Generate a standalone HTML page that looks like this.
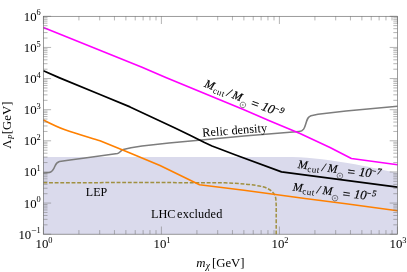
<!DOCTYPE html>
<html><head><meta charset="utf-8">
<style>
html,body{margin:0;padding:0;background:#fff;}
body{width:407px;height:272px;overflow:hidden;}
svg{display:block;will-change:transform;}
text{font-family:"Liberation Serif",serif;fill:#000;}
</style></head><body>
<svg width="407" height="272" viewBox="0 0 407 272">
<rect width="407" height="272" fill="#fff"/>
<path d="M43.4,157 L292,157 C313,157.7 330,160.1 355,164.3 C372,167.5 385,170.5 397.5,173 L397.4,234.2 L43.4,234.2 Z" fill="#dadaec"/>
<g fill="none" stroke-linejoin="round">
<path d="M43.4,172.9 L49.5,172.4 C52.7,171.9 53.7,169.3 54.9,166.2 C56.1,163.2 57.5,162.2 59.5,161.6 L70,160.1 L85,157.9 L117.5,153.5 C120,152.9 120.8,150.3 123.3,149.5 L131,147.7 L142,146 L169,143 L196,140.4 L244,135.9 L299,131.6 C303.5,131.2 304.6,128 305.9,123.5 C307.2,118.6 308,116.8 311,115.7 L318,114.3 L346,111 L397.5,106.2" stroke="#7d7d7d" stroke-width="1.55"/>
<path d="M43.4,182.8 L142,182.5 L225,182.8 C240,183.4 254,184.6 263,186.8 C270,188.8 274.6,192.5 275.8,198.5 L276.2,205 L276.2,234.2" stroke="#a09040" stroke-width="1.5" stroke-dasharray="3.9,1.73"/>
<path d="M43.4,119.9 C50,123.3 58,127.2 65,129.7 C75,133.3 88,137 100,140.7 L130,153 L160,165.6 L199.5,184.7 L244,190.3 L305,198.5 L346,203.7 L397.5,210.7" stroke="#ff8000" stroke-width="1.65"/>
<path d="M43.4,70.8 L59,77.6 L100,94.5 L130,106.9 L175,127.9 L190,135.3 L204.5,142.6 L212,146 L219.3,148.8 L235,154.7 L281.5,171.9 L397.5,187.2" stroke="#000" stroke-width="1.7"/>
<path d="M43.4,27.6 L142,67.2 L165.8,77.5 L244,109.7 L270,120.9 L300,133.6 L330,147.5 L351.4,158.5 L397.5,164.7" stroke="#ff00ff" stroke-width="1.65"/>
</g>
<g stroke="#777" stroke-width="0.55" fill="none"><path d="M43.40,234.2v-7.7 M43.40,16.3v7.7 M78.92,234.2v-4.1 M78.92,16.3v4.1 M99.70,234.2v-4.1 M99.70,16.3v4.1 M114.44,234.2v-4.1 M114.44,16.3v4.1 M125.88,234.2v-4.1 M125.88,16.3v4.1 M135.22,234.2v-4.1 M135.22,16.3v4.1 M143.12,234.2v-4.1 M143.12,16.3v4.1 M149.96,234.2v-4.1 M149.96,16.3v4.1 M156.00,234.2v-4.1 M156.00,16.3v4.1 M161.40,234.2v-7.7 M161.40,16.3v7.7 M196.92,234.2v-4.1 M196.92,16.3v4.1 M217.70,234.2v-4.1 M217.70,16.3v4.1 M232.44,234.2v-4.1 M232.44,16.3v4.1 M243.88,234.2v-4.1 M243.88,16.3v4.1 M253.22,234.2v-4.1 M253.22,16.3v4.1 M261.12,234.2v-4.1 M261.12,16.3v4.1 M267.96,234.2v-4.1 M267.96,16.3v4.1 M274.00,234.2v-4.1 M274.00,16.3v4.1 M279.40,234.2v-7.7 M279.40,16.3v7.7 M314.92,234.2v-4.1 M314.92,16.3v4.1 M335.70,234.2v-4.1 M335.70,16.3v4.1 M350.44,234.2v-4.1 M350.44,16.3v4.1 M361.88,234.2v-4.1 M361.88,16.3v4.1 M371.22,234.2v-4.1 M371.22,16.3v4.1 M379.12,234.2v-4.1 M379.12,16.3v4.1 M385.96,234.2v-4.1 M385.96,16.3v4.1 M392.00,234.2v-4.1 M392.00,16.3v4.1 M397.40,234.2v-7.7 M397.40,16.3v7.7 M43.4,234.20h7.7 M397.4,234.20h-7.7 M43.4,224.83h4.1 M397.4,224.83h-4.1 M43.4,219.35h4.1 M397.4,219.35h-4.1 M43.4,215.46h4.1 M397.4,215.46h-4.1 M43.4,212.44h4.1 M397.4,212.44h-4.1 M43.4,209.98h4.1 M397.4,209.98h-4.1 M43.4,207.89h4.1 M397.4,207.89h-4.1 M43.4,206.09h4.1 M397.4,206.09h-4.1 M43.4,204.50h4.1 M397.4,204.50h-4.1 M43.4,203.07h7.7 M397.4,203.07h-7.7 M43.4,193.70h4.1 M397.4,193.70h-4.1 M43.4,188.22h4.1 M397.4,188.22h-4.1 M43.4,184.33h4.1 M397.4,184.33h-4.1 M43.4,181.31h4.1 M397.4,181.31h-4.1 M43.4,178.85h4.1 M397.4,178.85h-4.1 M43.4,176.76h4.1 M397.4,176.76h-4.1 M43.4,174.96h4.1 M397.4,174.96h-4.1 M43.4,173.37h4.1 M397.4,173.37h-4.1 M43.4,171.94h7.7 M397.4,171.94h-7.7 M43.4,162.57h4.1 M397.4,162.57h-4.1 M43.4,157.09h4.1 M397.4,157.09h-4.1 M43.4,153.20h4.1 M397.4,153.20h-4.1 M43.4,150.18h4.1 M397.4,150.18h-4.1 M43.4,147.72h4.1 M397.4,147.72h-4.1 M43.4,145.64h4.1 M397.4,145.64h-4.1 M43.4,143.83h4.1 M397.4,143.83h-4.1 M43.4,142.24h4.1 M397.4,142.24h-4.1 M43.4,140.81h7.7 M397.4,140.81h-7.7 M43.4,131.44h4.1 M397.4,131.44h-4.1 M43.4,125.96h4.1 M397.4,125.96h-4.1 M43.4,122.07h4.1 M397.4,122.07h-4.1 M43.4,119.06h4.1 M397.4,119.06h-4.1 M43.4,116.59h4.1 M397.4,116.59h-4.1 M43.4,114.51h4.1 M397.4,114.51h-4.1 M43.4,112.70h4.1 M397.4,112.70h-4.1 M43.4,111.11h4.1 M397.4,111.11h-4.1 M43.4,109.69h7.7 M397.4,109.69h-7.7 M43.4,100.32h4.1 M397.4,100.32h-4.1 M43.4,94.83h4.1 M397.4,94.83h-4.1 M43.4,90.94h4.1 M397.4,90.94h-4.1 M43.4,87.93h4.1 M397.4,87.93h-4.1 M43.4,85.46h4.1 M397.4,85.46h-4.1 M43.4,83.38h4.1 M397.4,83.38h-4.1 M43.4,81.57h4.1 M397.4,81.57h-4.1 M43.4,79.98h4.1 M397.4,79.98h-4.1 M43.4,78.56h7.7 M397.4,78.56h-7.7 M43.4,69.19h4.1 M397.4,69.19h-4.1 M43.4,63.71h4.1 M397.4,63.71h-4.1 M43.4,59.82h4.1 M397.4,59.82h-4.1 M43.4,56.80h4.1 M397.4,56.80h-4.1 M43.4,54.33h4.1 M397.4,54.33h-4.1 M43.4,52.25h4.1 M397.4,52.25h-4.1 M43.4,50.45h4.1 M397.4,50.45h-4.1 M43.4,48.85h4.1 M397.4,48.85h-4.1 M43.4,47.43h7.7 M397.4,47.43h-7.7 M43.4,38.06h4.1 M397.4,38.06h-4.1 M43.4,32.58h4.1 M397.4,32.58h-4.1 M43.4,28.69h4.1 M397.4,28.69h-4.1 M43.4,25.67h4.1 M397.4,25.67h-4.1 M43.4,23.21h4.1 M397.4,23.21h-4.1 M43.4,21.12h4.1 M397.4,21.12h-4.1 M43.4,19.32h4.1 M397.4,19.32h-4.1 M43.4,17.72h4.1 M397.4,17.72h-4.1 M43.4,16.30h7.7 M397.4,16.30h-7.7"/></g>
<rect x="43.4" y="16.3" width="354" height="217.9" fill="none" stroke="#666" stroke-width="0.65"/>
<g font-size="12.8">
<text x="40.80" y="238.70" text-anchor="end">10<tspan font-size="9.6" dy="-4.6">−</tspan><tspan font-size="8.4" dy="-0.7">1</tspan></text>
<text x="40.80" y="207.57" text-anchor="end">10<tspan font-size="8.4" dy="-5.3">0</tspan></text>
<text x="40.80" y="176.44" text-anchor="end">10<tspan font-size="8.4" dy="-5.3">1</tspan></text>
<text x="40.80" y="145.31" text-anchor="end">10<tspan font-size="8.4" dy="-5.3">2</tspan></text>
<text x="40.80" y="114.19" text-anchor="end">10<tspan font-size="8.4" dy="-5.3">3</tspan></text>
<text x="40.80" y="83.06" text-anchor="end">10<tspan font-size="8.4" dy="-5.3">4</tspan></text>
<text x="40.80" y="51.93" text-anchor="end">10<tspan font-size="8.4" dy="-5.3">5</tspan></text>
<text x="40.80" y="20.80" text-anchor="end">10<tspan font-size="8.4" dy="-5.3">6</tspan></text>
<text x="44.00" y="248.00" text-anchor="middle">10<tspan font-size="8.4" dy="-4.6">0</tspan></text>
<text x="162.00" y="248.00" text-anchor="middle">10<tspan font-size="8.4" dy="-4.6">1</tspan></text>
<text x="280.00" y="248.00" text-anchor="middle">10<tspan font-size="8.4" dy="-4.6">2</tspan></text>
<text x="398.00" y="248.00" text-anchor="middle">10<tspan font-size="8.4" dy="-4.6">3</tspan></text>
</g>
<text transform="translate(11.2,148.7) rotate(-90)" font-size="12.8">Λ<tspan font-size="7.5" font-style="italic" dy="2.6" dx="0.2">P</tspan><tspan dy="-2.6" dx="0.5">[GeV]</tspan></text>
<text x="196.2" y="266.8" font-size="12.8"><tspan font-style="italic">m</tspan><tspan font-size="9.5" font-style="italic" dy="2.2" dx="0.4">χ</tspan><tspan dy="-2.2" dx="1.9">[GeV]</tspan></text>
<text x="85.8" y="195.5" font-size="12">LEP</text>
<text x="150.9" y="217.5" font-size="12.3">LHC<tspan dx="1.6" letter-spacing="0.12">excluded</tspan></text>
<text transform="translate(202.5,136.75) rotate(-4.5)" font-size="12.4">Relic density</text>
<g transform="translate(203.8,86.6) rotate(21.8)"><text font-size="11.7" font-style="italic" stroke="#000" stroke-width="0.18"><tspan x="0" y="0">M</tspan><tspan x="10" y="2.5" font-size="9" font-style="normal" letter-spacing="0.45" stroke="none">cut</tspan><tspan x="24.1" y="0">/</tspan><tspan x="29.9" y="0">M</tspan><tspan x="50.2" y="1.4" font-size="13.5" font-style="normal">=</tspan><tspan x="61.4" y="0" font-size="12.8">10</tspan><tspan x="73.6" y="-4" font-size="8">−</tspan><tspan x="79.3" y="-4" font-size="8.8">9</tspan></text><circle cx="43.1" cy="2.5" r="2.8" fill="none" stroke="#000" stroke-width="0.42"/><circle cx="43.1" cy="2.5" r="0.55" fill="#000"/></g>
<g transform="translate(297.5,167.9) rotate(7.3)"><text font-size="11.7" font-style="italic" stroke="#000" stroke-width="0.18"><tspan x="0" y="0">M</tspan><tspan x="10" y="2.5" font-size="9" font-style="normal" letter-spacing="0.45" stroke="none">cut</tspan><tspan x="24.1" y="0">/</tspan><tspan x="29.9" y="0">M</tspan><tspan x="50.2" y="1.4" font-size="13.5" font-style="normal">=</tspan><tspan x="61.4" y="0" font-size="12.8">10</tspan><tspan x="73.6" y="-4" font-size="8">−</tspan><tspan x="79.3" y="-4" font-size="8.8">7</tspan></text><circle cx="43.1" cy="2.5" r="2.8" fill="none" stroke="#000" stroke-width="0.42"/><circle cx="43.1" cy="2.5" r="0.55" fill="#000"/></g>
<g transform="translate(292.5,190.4) rotate(7)"><text font-size="11.7" font-style="italic" stroke="#000" stroke-width="0.18"><tspan x="0" y="0">M</tspan><tspan x="10" y="2.5" font-size="9" font-style="normal" letter-spacing="0.45" stroke="none">cut</tspan><tspan x="24.1" y="0">/</tspan><tspan x="29.9" y="0">M</tspan><tspan x="50.2" y="1.4" font-size="13.5" font-style="normal">=</tspan><tspan x="61.4" y="0" font-size="12.8">10</tspan><tspan x="73.6" y="-4" font-size="8">−</tspan><tspan x="79.3" y="-4" font-size="8.8">5</tspan></text><circle cx="43.1" cy="2.5" r="2.8" fill="none" stroke="#000" stroke-width="0.42"/><circle cx="43.1" cy="2.5" r="0.55" fill="#000"/></g>
</svg>
</body></html>
